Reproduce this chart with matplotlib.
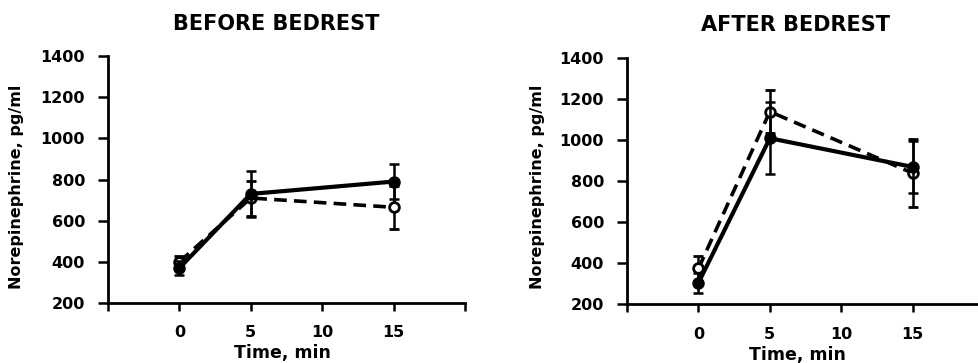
import matplotlib
matplotlib.use("Agg")
import matplotlib.pyplot as plt

time = [0, 5, 15]
before_filled = [370, 730, 790]
before_filled_err = [35, 110, 85]
before_open = [400, 710, 665]
before_open_err = [30, 85, 105]

after_filled = [305, 1010, 870]
after_filled_err = [50, 175, 125]
after_open = [375, 1140, 840]
after_open_err = [60, 105, 165]

titles = ["BEFORE BEDREST", "AFTER BEDREST"]
yticks = [200, 400, 600, 800, 1000, 1200, 1400]
xticks = [-5, 0, 5, 10, 15, 20]
xticklabels = ["", "0", "5", "10", "15", ""]

plt.rcParams['font.family'] = ['DejaVu Sans']
plt.rcParams['font.weight'] = 'bold'

fig = plt.figure(figsize=(9.79, 3.63), dpi=100)
axL = fig.add_axes([0.1103, 0.1653, 0.3647, 0.6804])
axR = fig.add_axes([0.6405, 0.1617, 0.3647, 0.6777])

panels = [
    (axL, before_filled, before_filled_err, before_open, before_open_err),
    (axR, after_filled, after_filled_err, after_open, after_open_err),
]

for ax, yf, ef, yo, eo in panels:
    ax.errorbar(time, yo, yerr=eo, color='black', lw=2.6, ls=(0, (3.5, 2.0)),
                marker='o', ms=7, mfc='white', mec='black', mew=2,
                capsize=3.5, elinewidth=1.8, capthick=1.8, zorder=3)
    ax.errorbar(time, yf, yerr=ef, color='black', lw=3, ls='-',
                marker='o', ms=8, mfc='black', mec='black',
                capsize=3.5, elinewidth=1.8, capthick=1.8, zorder=4)
    ax.set_xlim(-5, 20)
    ax.set_ylim(200, 1400)
    ax.set_xticks(xticks)
    ax.set_xticklabels(xticklabels)
    ax.set_yticks(yticks)
    for s in ['top', 'right']:
        ax.spines[s].set_visible(False)
    for s in ['left', 'bottom']:
        ax.spines[s].set_linewidth(2)
    ax.tick_params(axis='y', direction='out', length=7, width=1.8, labelsize=11.5, pad=9.5)
    ax.tick_params(axis='x', direction='out', length=6, width=1.8, labelsize=11.5, pad=10)
    for lab in ax.get_xticklabels() + ax.get_yticklabels():
        lab.set_fontweight('bold')

fig.text(0.282, 0.933, titles[0], ha='center', va='center', fontsize=15, fontweight='bold')
fig.text(0.813, 0.930, titles[1], ha='center', va='center', fontsize=15, fontweight='bold')

fig.text(0.017, 0.485, "Norepinephrine, pg/ml", rotation=90, ha='center', va='center',
         fontsize=11.5, fontweight='bold')
fig.text(0.5495, 0.485, "Norepinephrine, pg/ml", rotation=90, ha='center', va='center',
         fontsize=11.5, fontweight='bold')

fig.text(0.288, 0.028, "Time, min", ha='center', va='center', fontsize=12.5, fontweight='bold')
fig.text(0.815, 0.022, "Time, min", ha='center', va='center', fontsize=12.5, fontweight='bold')

fig.savefig("out.png", dpi=100)
